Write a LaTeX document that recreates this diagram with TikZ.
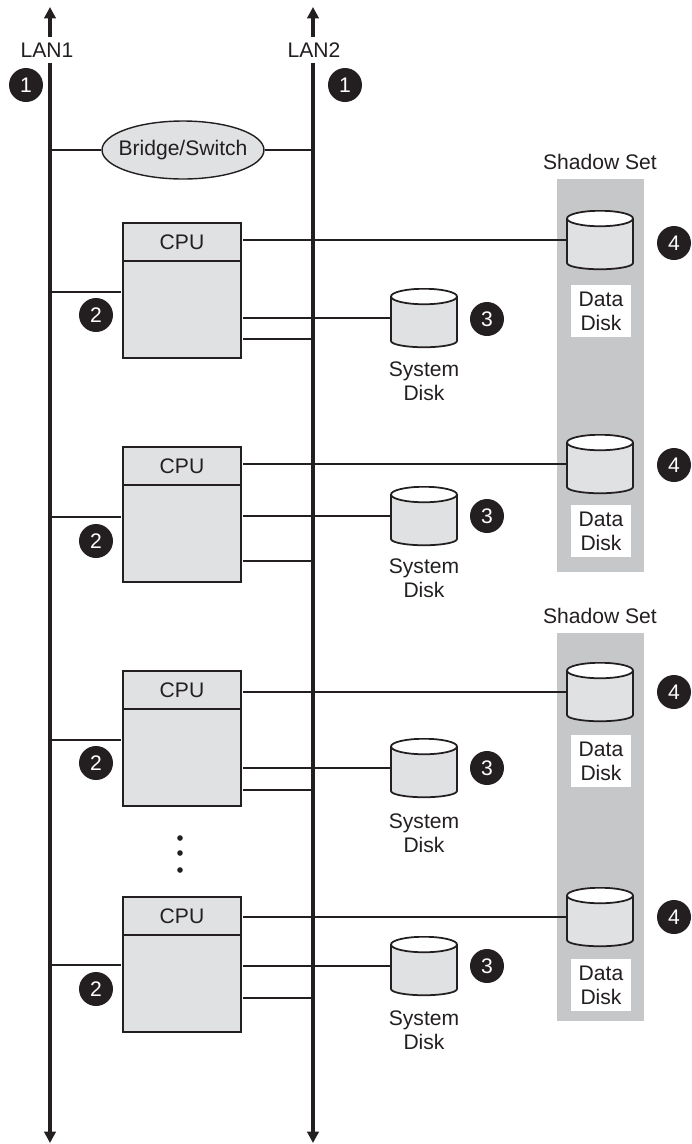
\documentclass[tikz,border=0pt]{standalone}
\usepackage{fontspec}
\setmainfont{Liberation Sans}
\usetikzlibrary{shapes.geometric,arrows.meta,calc,positioning}
\definecolor{ink}{HTML}{231F20}
\definecolor{boxgray}{HTML}{E0E1E3}
\definecolor{panelgray}{HTML}{C6C7C9}
\tikzset{
  label text/.style={font=\fontsize{12}{13.6}\selectfont,text=ink,align=center,inner sep=0pt},
  bus/.style={draw=ink,line width=2.2pt,{Triangle[width=6.5pt,length=6.5pt]}-{Triangle[width=6.5pt,length=6.5pt]}},
  link/.style={draw=ink,line width=0.8pt},
  boxlink/.style={link,shorten <=1.2pt},
  buslink/.style={link,shorten >=1pt},
  cpuhead/.style={draw=ink,fill=boxgray,line width=1pt,minimum width=2.36cm,minimum height=0.76cm,outer sep=0pt,inner sep=0pt,label text},
  cpubody/.style={draw=ink,fill=boxgray,line width=1pt,minimum width=2.36cm,minimum height=1.94cm,outer sep=0pt,inner sep=0pt},
  disk/.style={rectangle,minimum width=1.36cm,minimum height=1.2cm,inner sep=0pt,outer sep=0pt,
    path picture={
      \draw[draw=ink,fill=boxgray,line width=1pt,shift={(path picture bounding box.center)}] (-0.66cm,0.43cm) -- (-0.66cm,-0.46cm) arc[x radius=0.66cm,y radius=0.125cm,start angle=180,end angle=360] -- (0.66cm,0.43cm);
      \draw[draw=ink,fill=white,line width=1pt,shift={(path picture bounding box.center)}] (0cm,0.43cm) ellipse[x radius=0.66cm,y radius=0.155cm];
    }},
  badge/.style={circle,fill=ink,text=white,minimum size=0.68cm,inner sep=0pt,font=\fontsize{12}{13.6}\selectfont},
  whitebox/.style={label text,fill=white,minimum width=1.2cm,minimum height=1.04cm},
  shade/.style={fill=panelgray,draw=none}
}
\begin{document}
\begin{tikzpicture}[x=0.02cm,y=-0.02cm]
    \useasboundingbox (0,0) rectangle (691,1144);
    % shadow sets
    \fill[shade] (557,179) rectangle (644,572);
    \fill[shade] (557,633) rectangle (644,1021);
    \node[label text] (shadowA) at (600,162) {Shadow Set};
    \node[label text] (shadowB) at (600,616) {Shadow Set};
    % the two LANs
    \coordinate (lan1top) at (50,7);
    \coordinate (lan1bot) at (50,1143);
    \coordinate (lan2top) at (313,7);
    \coordinate (lan2bot) at (313,1143);
    \draw[bus] (lan1top) -- (lan1bot);
    \draw[bus] (lan2top) -- (lan2bot);
    \node[label text,fill=white,inner ysep=3pt] (lan1) at (47,50) {LAN1};
    \node[label text,fill=white,inner ysep=3pt] (lan2) at (314,50) {LAN2};
    \node[badge] (one1) at (26,85) {1};
    \node[badge] (one2) at (345,85) {1};
    % bridge
    \node[ellipse,draw=ink,fill=boxgray,line width=0.8pt,minimum width=3.24cm,minimum height=1.16cm,inner sep=0pt,label text] (bridge) at (183,150) {\makebox[0pt]{Bridge/Switch}};
    \coordinate (br1) at (50,150);
    \coordinate (br2) at (313,150);
    \draw[link] (br1) -- (bridge);
    \draw[link] (bridge) -- (br2);
    % first CPU
    \node[cpuhead] (cpuA) at (182,242) {CPU};
    \node[cpubody,below=0pt of cpuA] (bodyA) {};
    \node[disk] (sysA) at (424,318) {};
    \node[disk] (dataA) at (600,240) {};
    \node[whitebox] (dataTextA) at (601,311) {Data\\Disk};
    \node[label text] (sysTextA) at (424,381) {System\\Disk};
    \node[badge] (twoA) at (96,315) {2};
    \node[badge] (threeA) at (487,319) {3};
    \node[badge] (fourA) at (674,243) {4};
    \coordinate (a1) at (50,292);
    \coordinate (a2) at (313,339);
    \draw[buslink] (a1) -- (bodyA.west |- a1);
    \draw[boxlink] (cpuA.east |- dataA.west) -- (dataA.west);
    \draw[boxlink] (bodyA.east |- sysA.west) -- (sysA.west);
    \draw[boxlink] (bodyA.east |- a2) -- (a2);
    % second CPU
    \node[cpuhead] (cpuB) at (182,466) {CPU};
    \node[cpubody,below=0pt of cpuB] (bodyB) {};
    \node[disk] (sysB) at (424,516) {};
    \node[disk] (dataB) at (600,464) {};
    \node[whitebox] (dataTextB) at (601,531) {Data\\Disk};
    \node[label text] (sysTextB) at (424,578) {System\\Disk};
    \node[badge] (twoB) at (96,541) {2};
    \node[badge] (threeB) at (487,516) {3};
    \node[badge] (fourB) at (674,465) {4};
    \coordinate (b1) at (50,517);
    \coordinate (b2) at (313,561);
    \draw[buslink] (b1) -- (bodyB.west |- b1);
    \draw[boxlink] (cpuB.east |- dataB.west) -- (dataB.west);
    \draw[boxlink] (bodyB.east |- sysB.west) -- (sysB.west);
    \draw[boxlink] (bodyB.east |- b2) -- (b2);
    % third CPU
    \node[cpuhead] (cpuC) at (182,690) {CPU};
    \node[cpubody,below=0pt of cpuC] (bodyC) {};
    \node[disk] (sysC) at (424,768) {};
    \node[disk] (dataC) at (600,692) {};
    \node[whitebox] (dataTextC) at (601,761) {Data\\Disk};
    \node[label text] (sysTextC) at (424,833) {System\\Disk};
    \node[badge] (twoC) at (96,763) {2};
    \node[badge] (threeC) at (487,768) {3};
    \node[badge] (fourC) at (674,692) {4};
    \coordinate (c1) at (50,740);
    \coordinate (c2) at (313,790);
    \draw[buslink] (c1) -- (bodyC.west |- c1);
    \draw[boxlink] (cpuC.east |- dataC.west) -- (dataC.west);
    \draw[boxlink] (bodyC.east |- sysC.west) -- (sysC.west);
    \draw[boxlink] (bodyC.east |- c2) -- (c2);
    % dots
    \fill[ink] (180,838) circle (2.8);
    \fill[ink] (180,853) circle (2.8);
    \fill[ink] (180,870) circle (2.8);
    % fourth CPU
    \node[cpuhead] (cpuD) at (182,916) {CPU};
    \node[cpubody,below=0pt of cpuD] (bodyD) {};
    \node[disk] (sysD) at (424,966) {};
    \node[disk] (dataD) at (600,917) {};
    \node[whitebox] (dataTextD) at (601,985) {Data\\Disk};
    \node[label text] (sysTextD) at (424,1030) {System\\Disk};
    \node[badge] (twoD) at (96,989) {2};
    \node[badge] (threeD) at (487,966) {3};
    \node[badge] (fourD) at (674,917) {4};
    \coordinate (d1) at (50,965);
    \coordinate (d2) at (313,998);
    \draw[buslink] (d1) -- (bodyD.west |- d1);
    \draw[boxlink] (cpuD.east |- dataD.west) -- (dataD.west);
    \draw[boxlink] (bodyD.east |- sysD.west) -- (sysD.west);
    \draw[boxlink] (bodyD.east |- d2) -- (d2);
\end{tikzpicture}
\end{document}
